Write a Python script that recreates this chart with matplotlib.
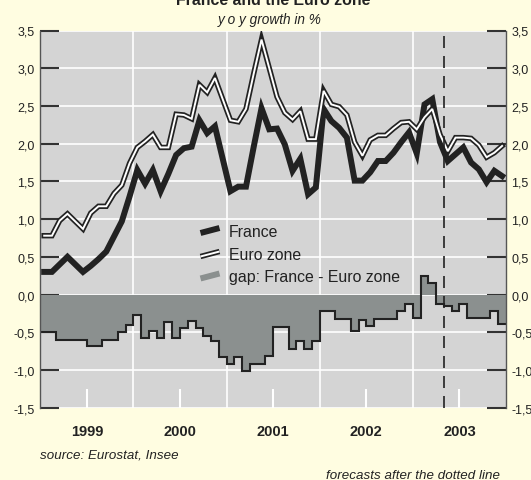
import matplotlib
matplotlib.use("Agg")
import matplotlib.pyplot as plt
import numpy as np

plt.rcParams['font.family'] = ['Liberation Sans', 'DejaVu Sans']

# monthly data, Jan 1999 .. Dec 2003 (y o y growth in %)
france = [0.30, 0.30, 0.40, 0.50, 0.40, 0.30, 0.38, 0.47, 0.57, 0.77, 0.97, 1.30,
          1.65, 1.47, 1.65, 1.37, 1.60, 1.85, 1.94, 1.96, 2.31, 2.14, 2.23, 1.80,
          1.37, 1.43, 1.43, 1.96, 2.47, 2.19, 2.20, 1.99, 1.64, 1.80, 1.33, 1.42,
          2.46, 2.30, 2.21, 2.08, 1.51, 1.51, 1.62, 1.77, 1.77, 1.88, 2.02, 2.15,
          1.87, 2.52, 2.59, 2.02, 1.77, 1.86, 1.95, 1.75, 1.66, 1.49, 1.64, 1.57]
euro = [0.78, 0.78, 0.98, 1.07, 0.97, 0.87, 1.08, 1.17, 1.17, 1.34, 1.45, 1.74,
        1.95, 2.03, 2.12, 1.95, 1.95, 2.39, 2.38, 2.33, 2.78, 2.68, 2.87, 2.59,
        2.31, 2.29, 2.46, 2.93, 3.38, 3.00, 2.62, 2.41, 2.32, 2.43, 2.06, 2.06,
        2.70, 2.52, 2.49, 2.38, 2.02, 1.84, 2.05, 2.11, 2.11, 2.20, 2.28, 2.29,
        2.19, 2.35, 2.46, 2.12, 1.90, 2.08, 2.08, 2.07, 1.98, 1.82, 1.88, 1.97]
gap = [-0.50, -0.50, -0.60, -0.60, -0.60, -0.60, -0.68, -0.68, -0.60, -0.60, -0.50, -0.40,
       -0.27, -0.58, -0.48, -0.58, -0.37, -0.58, -0.45, -0.35, -0.45, -0.55, -0.62, -0.83,
       -0.92, -0.83, -1.02, -0.92, -0.92, -0.82, -0.43, -0.43, -0.72, -0.62, -0.72, -0.62,
       -0.22, -0.22, -0.32, -0.32, -0.48, -0.34, -0.42, -0.32, -0.32, -0.32, -0.22, -0.12,
       -0.31, 0.24, 0.15, -0.12, -0.15, -0.22, -0.12, -0.31, -0.31, -0.31, -0.22, -0.39]
years = ['1999', '2000', '2001', '2002', '2003']
forecast_start = 52  # month index of the dotted line

W, H = 531, 481
fig = plt.figure(figsize=(W / 100, H / 100), dpi=100, facecolor='#fffde1')
ax = fig.add_axes([40.3 / W, 1 - 408.7 / H, 465.7 / W, 377.2 / H])
ax.set_facecolor('#d4d4d4')

n = len(france)
xm = np.arange(n) + 0.5
edges = np.arange(n + 1)

# gap as filled steps
ax.stairs(gap, edges, baseline=0, fill=True, color='#8b908f', zorder=1)
ax.stairs(gap, edges, baseline=None, color='#222222', lw=1.5, zorder=1.5)

# lines
ax.plot(xm, france, color='#222222', lw=4.3, solid_joinstyle='miter', zorder=3)
ax.plot(xm, euro, color='#222222', lw=3.9, solid_joinstyle='miter', zorder=4)
ax.plot(xm, euro, color='white', lw=1.4, solid_joinstyle='miter', zorder=5)

ax.axvline(forecast_start, color='#222222', lw=1.2, dashes=(7.2, 4.8), zorder=6)

ax.set_xlim(0, n)
ax.set_ylim(-1.5, 3.5)

yt = np.arange(-1.5, 3.51, 0.5)
ax.set_yticks(yt)
ax.set_yticklabels([f"{v:.1f}".replace('.', ',') for v in yt])
ax.set_xticks([6, 18, 30, 42, 54])
ax.set_xticklabels(years, fontweight='bold', fontsize=10.5)
ax.set_xticks([12, 24, 36, 48], minor=True)

ax.set_axisbelow(True)
ax.grid(axis='y', color='white', lw=1.2)
ax.grid(axis='x', which='minor', color='white', lw=1.2)

ax.tick_params(axis='y', direction='in', length=14, width=1.5, color='#333333',
               labelsize=9, left=True, right=True, labelleft=True, labelright=True,
               pad=4, labelcolor='#222222')
ax.tick_params(axis='x', which='major', direction='in', length=14, width=1.5,
               color='white', pad=12, labelcolor='#222222')
ax.tick_params(axis='x', which='minor', length=0)

for s in ['top', 'bottom']:
    ax.spines[s].set_visible(False)
for s in ['left', 'right']:
    ax.spines[s].set_color('#555555')
    ax.spines[s].set_linewidth(1)


# legend drawn by hand (slanted strokes)
def ax_xy(px, py):
    return (px - 40.3) / 465.7, (408.7 - py) / 377.2


def stroke(y0, **kw):
    a = ax_xy(200.5, y0 + 2.5)
    b = ax_xy(219.5, y0 - 2.5)
    ax.plot([a[0], b[0]], [a[1], b[1]], transform=ax.transAxes,
            solid_capstyle='butt', zorder=7, **kw)


stroke(231.5, color='#222222', lw=4.3)
stroke(255, color='#222222', lw=3.9)
stroke(255, color='white', lw=1.4)
stroke(277, color='#8b908f', lw=4.3)
for label, py in [('France', 232.5), ('Euro zone', 255.5), ('gap: France - Euro zone', 277.5)]:
    tx, ty = ax_xy(229, py)
    ax.text(tx, ty, label, transform=ax.transAxes, ha='left', va='center',
            fontsize=11.4, color='#222222', zorder=7)

fig.text(273 / W, 1 - 5 / H, 'France and the Euro zone', ha='center', va='baseline',
         fontsize=11.4, fontweight='bold', color='#222222')
fig.text(270 / W, 1 - 24 / H, 'y o y growth in %', ha='center', va='baseline',
         fontsize=9.8, style='italic', color='#222222')
fig.text(40 / W, 1 - 459 / H, 'source: Eurostat, Insee', ha='left', va='baseline',
         fontsize=9.6, style='italic', color='#222222')
fig.text(500 / W, 1 - 479 / H, 'forecasts after the dotted line', ha='right',
         va='baseline', fontsize=9.6, style='italic', color='#222222')

fig.savefig('out.png', dpi=100, facecolor=fig.get_facecolor())
